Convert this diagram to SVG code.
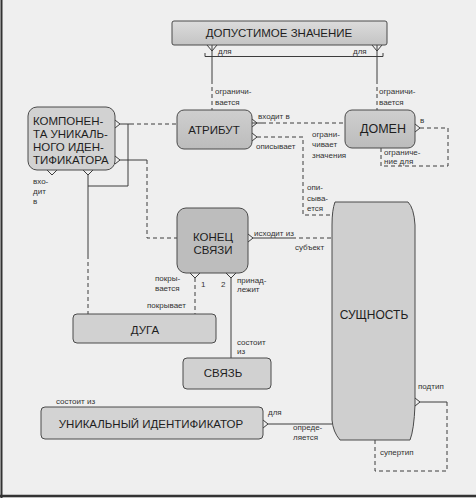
<svg xmlns="http://www.w3.org/2000/svg" width="476" height="498" viewBox="0 0 476 498">
<defs>
<linearGradient id="g1" x1="0" y1="0" x2="0" y2="1"><stop offset="0" stop-color="#dcdcdc"/><stop offset="1" stop-color="#c4c4c4"/></linearGradient>
<linearGradient id="g2" x1="0" y1="0" x2="0" y2="1"><stop offset="0" stop-color="#cfcfcf"/><stop offset="1" stop-color="#bcbcbc"/></linearGradient>
<style>
.box{stroke:#4a4a4a;stroke-width:1;fill:url(#g2)}
.lt{fill:#d3d3d3}
.nt{font-family:"Liberation Sans",Arial,sans-serif;font-size:11.5px;fill:#1e1e1e}
.lb{font-family:"Liberation Sans",Arial,sans-serif;font-size:8px;fill:#333}
.ln{stroke:#3c3c3c;stroke-width:1;fill:none}
.d{stroke-dasharray:4 3}
</style>
</defs>
<rect x="0" y="0" width="476" height="498" fill="#efefef"/>
<line x1="1.5" y1="0" x2="1.5" y2="498" stroke="#333" stroke-width="2"/>
<line x1="0" y1="496" x2="476" y2="496" stroke="#333" stroke-width="2.5"/>

<g id="connectors">
  <!-- ДОПУСТИМОЕ ЗНАЧЕНИЕ - АТРИБУТ / ДОМЕН -->
  <path class="ln" d="M207,45 L212,51 L217,45 M212,45 V51"/>
  <path class="ln" d="M212,51 V80"/>
  <path class="ln d" d="M212,80 V110"/>
  <path class="ln" d="M372,45 L377,51 L382,45 M377,45 V51"/>
  <path class="ln" d="M377,51 V80"/>
  <path class="ln d" d="M377,80 V110"/>
  <path class="ln" d="M205,53 V56.5 H383 V53"/>
  <!-- АТРИБУТ - ДОМЕН -->
  <path class="ln" d="M252,119 L257,123 L252,127 M252,123 H262"/>
  <path class="ln d" d="M262,123 H345"/>
  <!-- АТРИБУТ - СУЩНОСТЬ -->
  <path class="ln" d="M252,133 L257,137 L252,141"/>
  <path class="ln d" d="M257,137 H303 V215 H333"/>
  <!-- ДОМЕН recursive -->
  <path class="ln" d="M415,124 L420,128 L415,132"/>
  <path class="ln d" d="M420,128 H448 V166 H381 V148"/>
  <!-- КОМПОНЕНТА - АТРИБУТ -->
  <path class="ln" d="M115,120 L120,124 L115,128 M120,124 H130"/>
  <path class="ln d" d="M130,124 H177"/>
  <path class="ln" d="M83,170 L88,175 L93,170 M88,175 V186 H128 V124"/>
  <!-- КОМПОНЕНТА - ДУГА area -->
  <path class="ln" d="M88,186 V255"/>
  <path class="ln d" d="M88,255 V314"/>
  <path class="ln" d="M47,170 L52,175 L57,170"/>
  <!-- КОМПОНЕНТА - КОНЕЦ СВЯЗИ -->
  <path class="ln" d="M115,156 L120,160 L115,164 M120,160 H147"/>
  <path class="ln d" d="M147,160 V238 H177"/>
  <!-- КОНЕЦ СВЯЗИ - СУЩНОСТЬ -->
  <path class="ln" d="M248,234 L253,238 L248,242 M253,238 H292"/>
  <path class="ln d" d="M292,238 H333"/>
  <!-- КОНЕЦ СВЯЗИ - ДУГА -->
  <path class="ln" d="M190,273 L195,278 L200,273"/>
  <path class="ln d" d="M195,278 V314"/>
  <!-- КОНЕЦ СВЯЗИ - СВЯЗЬ -->
  <path class="ln" d="M226,273 L231,278 L236,273 M231,278 V358"/>
  <!-- УНИКАЛЬНЫЙ ИДЕНТИФИКАТОР - СУЩНОСТЬ -->
  <path class="ln" d="M263,420 L268,424 L263,428 M268,424 H332"/>
  <!-- СУЩНОСТЬ recursive -->
  <path class="ln" d="M415,398 L420,402 L415,406 M420,402 H447"/>
  <path class="ln d" d="M447,402 V471 H375 V440"/>
</g>

<g id="n-dop">
  <rect class="box" x="172" y="21" width="215" height="24" rx="2" fill="url(#g1)" style="fill:url(#g1)"/>
  <text class="nt" x="279" y="37" text-anchor="middle">ДОПУСТИМОЕ ЗНАЧЕНИЕ</text>
</g>
<g id="n-attr">
  <rect class="box" x="177" y="110" width="75" height="39" rx="7"/>
  <text class="nt" x="214" y="134" text-anchor="middle">АТРИБУТ</text>
</g>
<g id="n-domain">
  <rect class="box" x="345" y="110" width="70" height="38" rx="7"/>
  <text class="nt" x="383" y="133" text-anchor="middle" style="font-size:12.5px">ДОМЕН</text>
</g>
<g id="n-comp">
  <rect class="box" x="28" y="107" width="87" height="63" rx="9" style="fill:#d2d2d2"/>
  <text class="nt" x="33" y="125">КОМПОНЕН-</text>
  <text class="nt" x="33" y="138">ТА УНИКАЛЬ-</text>
  <text class="nt" x="33" y="151">НОГО ИДЕН-</text>
  <text class="nt" x="33" y="164">ТИФИКАТОРА</text>
</g>
<g id="n-end">
  <rect class="box" x="177" y="208" width="71" height="65" rx="9" style="fill:#bdbdbd"/>
  <text class="nt" x="213" y="241" text-anchor="middle">КОНЕЦ</text>
  <text class="nt" x="213" y="254" text-anchor="middle">СВЯЗИ</text>
</g>
<g id="n-arc">
  <rect class="box" x="73" y="314" width="143" height="29" rx="4" style="fill:#d1d1d1"/>
  <text class="nt" x="145" y="334" text-anchor="middle">ДУГА</text>
</g>
<g id="n-rel">
  <rect class="box" x="183" y="358" width="88" height="31" rx="4" style="fill:#d1d1d1"/>
  <text class="nt" x="223" y="377" text-anchor="middle">СВЯЗЬ</text>
</g>
<g id="n-entity">
  <path class="box" style="fill:#cfcfcf" d="M335,202 L408,202 Q414,208 415,225 L415,405 Q414,430 410,440 L340,440 Q333,432 332,420 L332,225 Q332,210 335,202 Z"/>
  <text class="nt" x="374" y="319" text-anchor="middle" style="font-size:12px">СУЩНОСТЬ</text>
</g>
<g id="n-uid">
  <rect class="box" x="41" y="407" width="222" height="32" rx="4" style="fill:#d3d3d3"/>
  <text class="nt" x="151" y="428" text-anchor="middle">УНИКАЛЬНЫЙ ИДЕНТИФИКАТОР</text>
</g>

<g id="labels">
  <text class="lb" x="218" y="54">для</text>
  <text class="lb" x="353" y="54">для</text>
  <text class="lb" x="215" y="94">ограничи-</text>
  <text class="lb" x="215" y="105">вается</text>
  <text class="lb" x="379" y="94">ограничи-</text>
  <text class="lb" x="379" y="105">вается</text>
  <text class="lb" x="258" y="119">входит в</text>
  <text class="lb" x="256" y="149">описывает</text>
  <text class="lb" x="312" y="137">ограни-</text>
  <text class="lb" x="312" y="147">чивает</text>
  <text class="lb" x="312" y="158">значения</text>
  <text class="lb" x="420" y="123">в</text>
  <text class="lb" x="384" y="155">ограниче-</text>
  <text class="lb" x="384" y="164">ние для</text>
  <text class="lb" x="307" y="190">опи-</text>
  <text class="lb" x="307" y="201">сыва-</text>
  <text class="lb" x="307" y="211">ется</text>
  <text class="lb" x="33" y="184">вхо-</text>
  <text class="lb" x="33" y="194">дит</text>
  <text class="lb" x="33" y="204">в</text>
  <text class="lb" x="254" y="236">исходит из</text>
  <text class="lb" x="295" y="250">субъект</text>
  <text class="lb" x="155" y="281">покры-</text>
  <text class="lb" x="155" y="291">вается</text>
  <text class="lb" x="201" y="287">1</text>
  <text class="lb" x="221" y="287">2</text>
  <text class="lb" x="237" y="283">принад-</text>
  <text class="lb" x="237" y="292">лежит</text>
  <text class="lb" x="147" y="308">покрывает</text>
  <text class="lb" x="237" y="345">состоит</text>
  <text class="lb" x="237" y="354">из</text>
  <text class="lb" x="56" y="404">состоит из</text>
  <text class="lb" x="268" y="415">для</text>
  <text class="lb" x="293" y="430">опреде-</text>
  <text class="lb" x="293" y="440">ляется</text>
  <text class="lb" x="418" y="389">подтип</text>
  <text class="lb" x="380" y="455">супертип</text>
</g>
</svg>
